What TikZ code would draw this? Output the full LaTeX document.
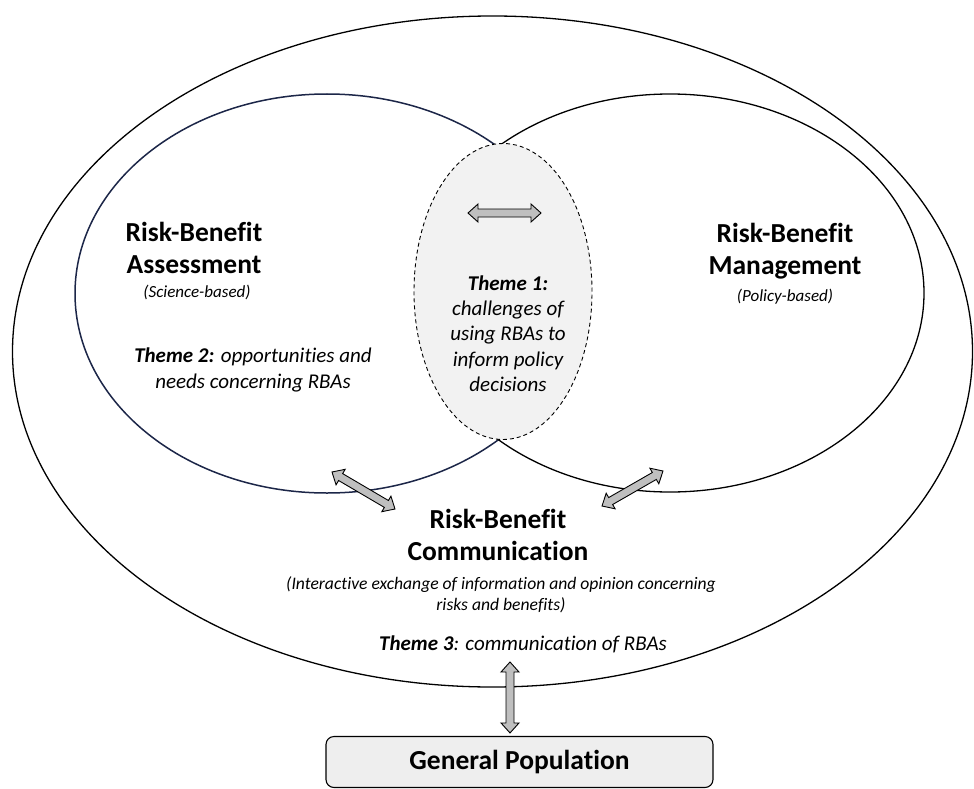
\documentclass[tikz,border=0pt]{standalone}
\usepackage{fontspec}
\setmainfont{Carlito}[Ligatures=NoCommon]
\usetikzlibrary{shapes.geometric,calc}
\definecolor{navy}{RGB}{28,38,72}
\definecolor{lgray}{RGB}{242,242,242}
\definecolor{agray}{RGB}{191,191,191}
\definecolor{boxgray}{RGB}{238,238,238}
\newcommand\blockarrow[2]{%
  \draw[fill=agray, line width=0.9pt, line join=miter]
   let \p1=(#1), \p2=(#2), \n1={atan2(\y2-\y1,\x2-\x1)}, \n2={veclen(\x2-\x1,\y2-\y1)} in
   [shift={(\p1)}, rotate=\n1]
   (0,0) -- (10,9) -- (10,4) -- (\n2-10,4) -- (\n2-10,9) -- (\n2,0) -- (\n2-10,-9) -- (\n2-10,-4) -- (10,-4) -- (10,-9) -- cycle;}
\begin{document}
\begin{tikzpicture}[x=1pt,y=-1pt,
  ell/.style={ellipse, draw, inner sep=0pt, line width=1.3pt},
  head/.style={font=\fontsize{27.5}{32.5}\selectfont\bfseries, align=center, inner sep=0pt},
  sub/.style={font=\fontsize{17}{21}\selectfont\itshape, align=center, inner sep=0pt},
  theme/.style={font=\fontsize{21}{25.3}\selectfont\itshape, align=center, inner sep=0pt},
  popbox/.style={draw, line width=1.1pt, fill=boxgray, rounded corners=8pt, minimum width=387pt, minimum height=51pt, inner sep=0pt, font=\fontsize{27.5}{32}\selectfont\bfseries}]
\useasboundingbox (0,0) rectangle (974,789);
\node[ell, minimum width=960pt, minimum height=671pt] (outer) at (492.5,351.5) {};
\node[ell, draw=navy, line width=1.5pt, minimum width=504pt, minimum height=399pt] (assess) at (327,293.5) {};
\node[ell, minimum width=508pt, minimum height=398pt] (manage) at (670,293) {};
\node[ell, line width=0.9pt, dash pattern=on 4pt off 3pt, fill=lgray, minimum width=178pt, minimum height=296pt] (overlap) at (503,291.5) {};
\node[popbox] (pop) at (519.5,762) {General Population};
% texts
\node[head] (rba) at (194,248) {Risk-Benefit\\Assessment};
\node[sub] (rbasub) at (197,292) {(Science-based)};
\node[head] (rbm) at (785,251) {Risk-Benefit\\Management};
\node[sub] (rbmsub) at (785,297) {(Policy-based)};
\node[theme] (t2) at (253,370) {\textbf{Theme 2:} opportunities and\\needs concerning RBAs};
\node[theme] (t1) at (508,333.5) {\textbf{Theme 1:}\\challenges of\\using RBAs to\\inform policy\\decisions};
\node[head] (rbc) at (498,535) {Risk-Benefit\\Communication};
\node[sub, font=\fontsize{17.6}{21}\selectfont\itshape] (inter) at (501,595) {(Interactive exchange of information and opinion concerning\\risks and benefits)};
\node[theme] (t3) at (523,644) {\textbf{Theme 3}: communication of RBAs};
% arrows
\coordinate (a1s) at (468,213);
\coordinate (a1e) at (541,213);
\coordinate (a2s) at (332,472);
\coordinate (a2e) at (395,509);
\coordinate (a3s) at (602,506);
\coordinate (a3e) at (663,471);
\coordinate (a4s) at (510,662);
\coordinate (a4e) at ($(pop.north)+(-9.5,-3)$);
\blockarrow{a1s}{a1e}
\blockarrow{a2s}{a2e}
\blockarrow{a3s}{a3e}
\blockarrow{a4s}{a4e}
\end{tikzpicture}
\end{document}
